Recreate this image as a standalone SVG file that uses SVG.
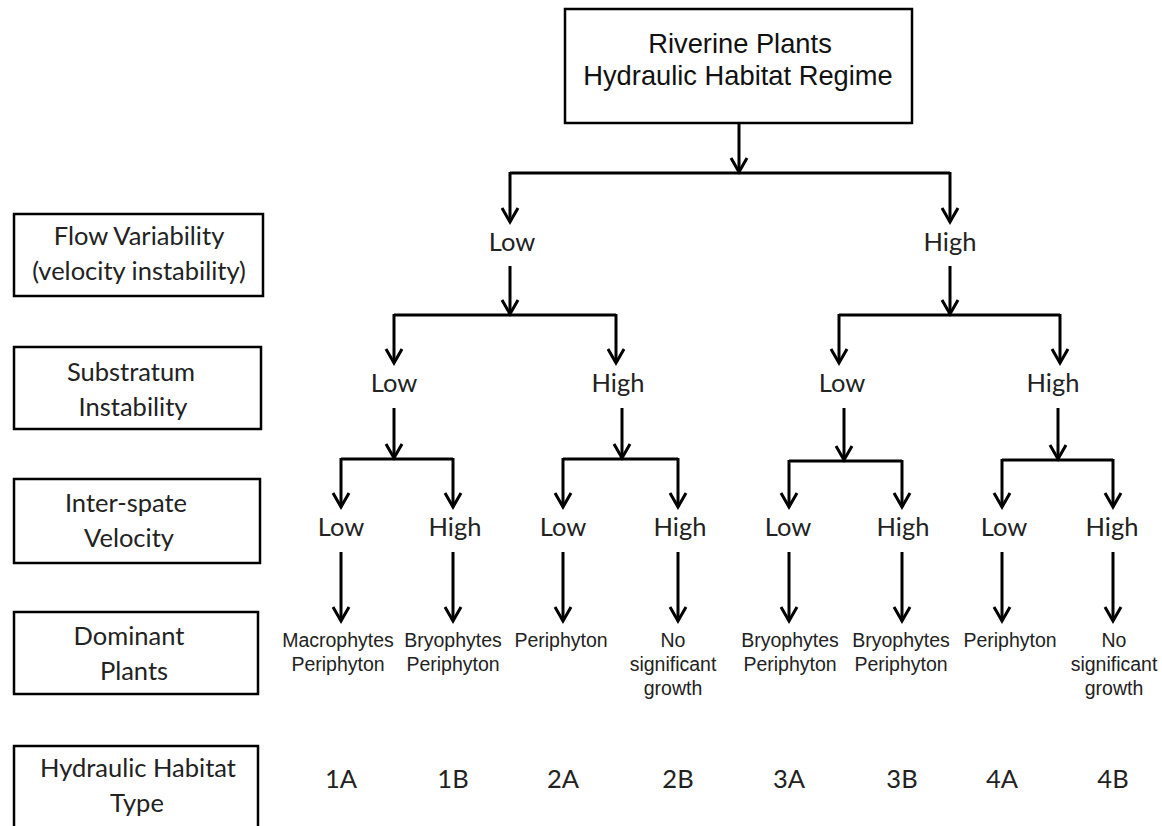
<svg xmlns="http://www.w3.org/2000/svg" width="1162" height="826" viewBox="0 0 1162 826">
<style>
.box{fill:#fff;stroke:#000;stroke-width:2.5}
.lbl{font-family:Lato,"Open Sans",sans-serif;font-size:25.5px;fill:#222;text-anchor:middle}
.title{font-family:"Liberation Sans",Arial,sans-serif;font-size:27.3px;fill:#111;text-anchor:middle}
.leaf{font-family:"Liberation Sans",Arial,sans-serif;font-size:19.5px;fill:#222;text-anchor:middle}
.ln{stroke:#000;stroke-width:3;fill:none}
.ar{stroke:#000;stroke-width:3;fill:none;marker-end:url(#ah)}
</style>
<defs>
<marker id="ah" markerUnits="userSpaceOnUse" markerWidth="30" markerHeight="30" refX="0" refY="0" orient="auto" overflow="visible">
<path d="M-14,-8 L0,0 L-14,8" stroke="#000" stroke-width="3" fill="none"/>
</marker>
</defs>
<rect width="1162" height="826" fill="#fff"/>

<g id="root">
<rect class="box" x="565" y="9" width="347" height="114"/>
<text class="title" x="740" y="53">Riverine Plants</text>
<text class="title" x="738" y="85">Hydraulic Habitat Regime</text>
</g>

<g id="row-flow">
<rect class="box" x="14" y="214" width="249" height="82"/>
<text class="lbl" x="139" y="245">Flow Variability</text>
<text class="lbl" x="139" y="280">(velocity instability)</text>
</g>
<g id="row-substratum">
<rect class="box" x="14" y="347" width="247" height="82"/>
<text class="lbl" x="131" y="381">Substratum</text>
<text class="lbl" x="133" y="416">Instability</text>
</g>
<g id="row-interspate">
<rect class="box" x="14" y="479" width="246" height="84"/>
<text class="lbl" x="126" y="512">Inter-spate</text>
<text class="lbl" x="129" y="547">Velocity</text>
</g>
<g id="row-dominant">
<rect class="box" x="14" y="612" width="244" height="82"/>
<text class="lbl" x="129" y="645">Dominant</text>
<text class="lbl" x="134" y="680">Plants</text>
</g>
<g id="row-type">
<rect class="box" x="14" y="746" width="244" height="90"/>
<text class="lbl" x="138" y="777">Hydraulic Habitat</text>
<text class="lbl" x="137" y="812">Type</text>
</g>

<g id="connectors">
<line class="ar" x1="739" y1="123" x2="739" y2="172"/>
<line class="ln" x1="510" y1="173" x2="950" y2="173"/>
<line class="ar" x1="510" y1="172" x2="510" y2="222"/>
<line class="ar" x1="950" y1="172" x2="950" y2="222"/>
<line class="ar" x1="510" y1="266" x2="510" y2="314"/>
<line class="ar" x1="950" y1="266" x2="950" y2="314"/>
<line class="ln" x1="394" y1="315" x2="616" y2="315"/>
<line class="ln" x1="839" y1="315" x2="1060" y2="315"/>
<line class="ar" x1="394" y1="314" x2="394" y2="363"/>
<line class="ar" x1="616" y1="314" x2="616" y2="363"/>
<line class="ar" x1="839" y1="314" x2="839" y2="363"/>
<line class="ar" x1="1060" y1="314" x2="1060" y2="363"/>
<line class="ar" x1="394" y1="408" x2="394" y2="458"/>
<line class="ar" x1="622" y1="408" x2="622" y2="458"/>
<line class="ar" x1="844" y1="408" x2="844" y2="460"/>
<line class="ar" x1="1058" y1="408" x2="1058" y2="459"/>
<line class="ln" x1="341" y1="459" x2="453" y2="459"/>
<line class="ln" x1="563" y1="459" x2="678" y2="459"/>
<line class="ln" x1="789" y1="461" x2="902" y2="461"/>
<line class="ln" x1="1002" y1="460" x2="1113" y2="460"/>
<line class="ar" x1="341" y1="458" x2="341" y2="507"/>
<line class="ar" x1="453" y1="458" x2="453" y2="507"/>
<line class="ar" x1="563" y1="458" x2="563" y2="507"/>
<line class="ar" x1="678" y1="458" x2="678" y2="507"/>
<line class="ar" x1="789" y1="460" x2="789" y2="507"/>
<line class="ar" x1="902" y1="460" x2="902" y2="507"/>
<line class="ar" x1="1002" y1="459" x2="1002" y2="507"/>
<line class="ar" x1="1113" y1="459" x2="1113" y2="507"/>
<line class="ar" x1="341" y1="552" x2="341" y2="621"/>
<line class="ar" x1="453" y1="552" x2="453" y2="621"/>
<line class="ar" x1="563" y1="552" x2="563" y2="621"/>
<line class="ar" x1="678" y1="552" x2="678" y2="621"/>
<line class="ar" x1="789" y1="552" x2="789" y2="621"/>
<line class="ar" x1="902" y1="552" x2="902" y2="621"/>
<line class="ar" x1="1002" y1="552" x2="1002" y2="621"/>
<line class="ar" x1="1113" y1="552" x2="1113" y2="621"/>
</g>

<g id="flow-low"><text class="lbl" x="512" y="251">Low</text></g>
<g id="flow-high"><text class="lbl" x="950" y="251">High</text></g>

<g id="sub-low-1"><text class="lbl" x="394" y="392">Low</text></g>
<g id="sub-high-1"><text class="lbl" x="618" y="392">High</text></g>
<g id="sub-low-2"><text class="lbl" x="842" y="392">Low</text></g>
<g id="sub-high-2"><text class="lbl" x="1053" y="392">High</text></g>

<g id="vel-1a"><text class="lbl" x="341" y="536">Low</text></g>
<g id="vel-1b"><text class="lbl" x="455" y="536">High</text></g>
<g id="vel-2a"><text class="lbl" x="563" y="536">Low</text></g>
<g id="vel-2b"><text class="lbl" x="680" y="536">High</text></g>
<g id="vel-3a"><text class="lbl" x="788" y="536">Low</text></g>
<g id="vel-3b"><text class="lbl" x="903" y="536">High</text></g>
<g id="vel-4a"><text class="lbl" x="1004" y="536">Low</text></g>
<g id="vel-4b"><text class="lbl" x="1112" y="536">High</text></g>

<g id="plant-1a"><text class="leaf" x="338" y="647">Macrophytes</text><text class="leaf" x="338" y="671">Periphyton</text></g>
<g id="plant-1b"><text class="leaf" x="453" y="647">Bryophytes</text><text class="leaf" x="453" y="671">Periphyton</text></g>
<g id="plant-2a"><text class="leaf" x="561" y="647">Periphyton</text></g>
<g id="plant-2b"><text class="leaf" x="673" y="647">No</text><text class="leaf" x="673" y="671">significant</text><text class="leaf" x="673" y="695">growth</text></g>
<g id="plant-3a"><text class="leaf" x="790" y="647">Bryophytes</text><text class="leaf" x="790" y="671">Periphyton</text></g>
<g id="plant-3b"><text class="leaf" x="901" y="647">Bryophytes</text><text class="leaf" x="901" y="671">Periphyton</text></g>
<g id="plant-4a"><text class="leaf" x="1010" y="647">Periphyton</text></g>
<g id="plant-4b"><text class="leaf" x="1114" y="647">No</text><text class="leaf" x="1114" y="671">significant</text><text class="leaf" x="1114" y="695">growth</text></g>

<g id="type-1a"><text class="lbl" x="341" y="788">1A</text></g>
<g id="type-1b"><text class="lbl" x="453" y="788">1B</text></g>
<g id="type-2a"><text class="lbl" x="563" y="788">2A</text></g>
<g id="type-2b"><text class="lbl" x="678" y="788">2B</text></g>
<g id="type-3a"><text class="lbl" x="789" y="788">3A</text></g>
<g id="type-3b"><text class="lbl" x="902" y="788">3B</text></g>
<g id="type-4a"><text class="lbl" x="1002" y="788">4A</text></g>
<g id="type-4b"><text class="lbl" x="1113" y="788">4B</text></g>
</svg>
